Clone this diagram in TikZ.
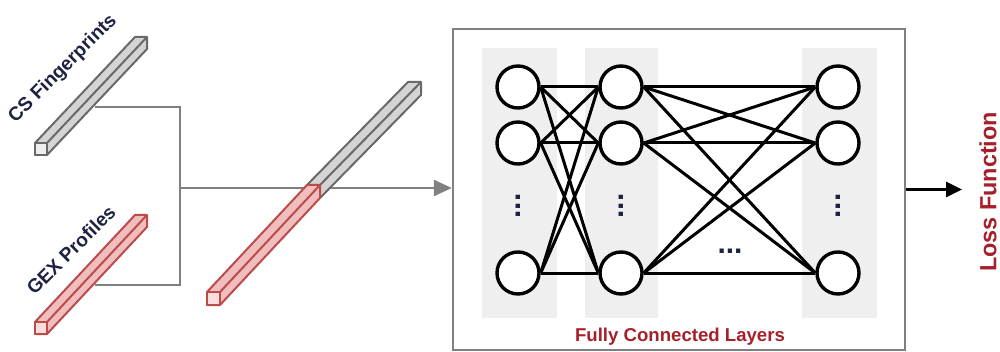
\documentclass[tikz,border=0pt]{standalone}
\usepackage{fontspec}
\setmainfont{Liberation Sans}
\usetikzlibrary{arrows.meta}
\definecolor{txtdark}{RGB}{30,34,66}
\definecolor{txtred}{RGB}{165,32,42}
\definecolor{conngray}{RGB}{128,128,128}
\definecolor{barstroke}{RGB}{105,105,105}
\definecolor{barfill}{RGB}{212,212,212}
\definecolor{barfront}{RGB}{238,238,238}
\definecolor{redstroke}{RGB}{188,76,74}
\definecolor{redfill}{RGB}{240,190,190}
\definecolor{redfront}{RGB}{250,222,222}
\definecolor{colshade}{RGB}{239,239,239}
% x, y (top-left of front face), s, dx, dy, stroke, fill, front fill
\newcommand{\prismbar}[8]{%
  \filldraw[draw=#6, fill=#7, line width=1pt, line join=round]
    (#1,#2) -- ++(#4,-#5) -- ++(#3,0) -- ++(0,#3) -- ++(-#4,#5) -- ++(-#3,0) -- cycle;
  \draw[draw=#6, line width=1pt] (#1+#3,#2) -- ++(#4,-#5);
  \filldraw[draw=#6, fill=#8, line width=1pt, line join=round] (#1,#2) rectangle ++(#3,#3);
}
\tikzset{
  lbl/.style={font=\fontsize{9.6}{11}\selectfont\bfseries, text=txtdark, inner sep=0pt},
  redlbl/.style={font=\fontsize{9.3}{11}\selectfont\bfseries, text=txtred, inner sep=0pt},
  neuron/.style={circle, draw=black, fill=white, line width=1.7pt, minimum size=21pt, inner sep=0pt},
  edge/.style={draw=black, line width=1.5pt},
  conn/.style={draw=conngray, line width=1.2pt},
  shade/.style={fill=colshade, draw=none},
  dotsnode/.style={font=\fontsize{15}{15}\selectfont\bfseries, text=txtdark, inner sep=0pt},
}
\begin{document}
\begin{tikzpicture}[x=0.5pt,y=-0.5pt]
\useasboundingbox (0,0) rectangle (1000,352);

% main box
\node (box) [draw=conngray, line width=1.2pt, minimum width=226pt, minimum height=160.5pt, inner sep=0pt] at (679,189.5) {};

% shaded columns
\fill[shade] (482,48) rectangle (557,318);
\fill[shade] (585,48) rectangle (658,318);
\fill[shade] (802,48) rectangle (877,318);

% neurons
\foreach \c/\x in {1/518, 2/621, 3/838}{
  \foreach \r/\y in {1/87, 2/143, 3/273}{
    \node[neuron] (n\c\r) at (\x,\y) {};
  }
}
% edges
\foreach \a in {1,2,3}{
  \foreach \b in {1,2,3}{
    \draw[edge] (n1\a.east) -- (n2\b.west);
    \draw[edge] (n2\a.east) -- (n3\b.west);
  }
}
% dots
\node[dotsnode, rotate=90] (vd1) at (518,206) {...};
\node[dotsnode, rotate=90] (vd2) at (621,206) {...};
\node[dotsnode, rotate=90] (vd3) at (838,206) {...};
\node[dotsnode] (hd) at (730,251) {...};

\node[redlbl] (fcl) at (680,337) {Fully Connected Layers};

% connectors on the left
\coordinate (csout) at (95,107);
\coordinate (gexout) at (95,285);
\coordinate (junction) at (180,188);
\draw[conn] (csout) -| (junction);
\draw[conn] (gexout) -| (junction);
\draw[conn, -{Triangle[length=9pt,width=8pt]}] (junction) -- (junction -| box.west);

% output arrow
\coordinate (lossend) at (962,189.5);
\draw[line width=1.6pt, -{Triangle[length=8pt,width=7.5pt]}] (box.east) -- (lossend);
\node[font=\fontsize{11.7}{13}\selectfont\bfseries, text=txtred, rotate=90, inner sep=0pt] (loss) at (988,192) {Loss Function};

% bars
\prismbar{35}{143}{12}{100}{106}{barstroke}{barfill}{barfront}
\prismbar{35}{322}{12}{100}{107}{redstroke}{redfill}{redfront}
\prismbar{307}{185}{13}{101}{103}{barstroke}{barfill}{barfront}
\prismbar{207}{292}{13}{100}{107}{redstroke}{redfill}{redfront}

% labels
\node[lbl, rotate=45] (cslbl) at (63,69) {CS Fingerprints};
\node[lbl, rotate=45] (gexlbl) at (71,250) {GEX Profiles};
\end{tikzpicture}
\end{document}
